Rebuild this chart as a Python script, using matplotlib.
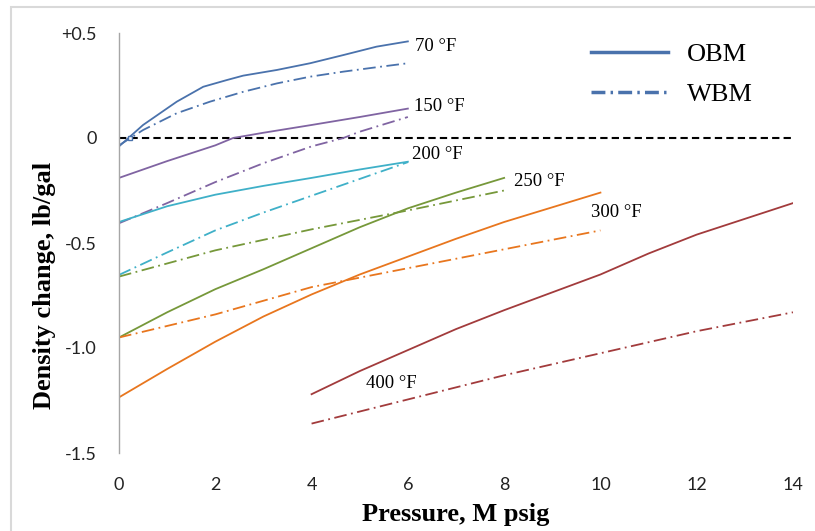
import matplotlib
matplotlib.use('Agg')
import matplotlib.pyplot as plt
from matplotlib.lines import Line2D
from matplotlib.patches import Rectangle

# OBM (solid) and WBM (dash-dot) density change, lb/gal vs pressure, M psig
p_70 = [0, 0.5, 1.2, 1.75, 2.24, 2.58, 3.28, 3.97, 4.66, 5.35, 6]
obm_70 = [-0.04, 0.062, 0.173, 0.244, 0.276, 0.297, 0.324, 0.356, 0.395, 0.435, 0.46]
p_70w = [0, 0.5, 1.2, 1.89, 2.58, 3.28, 3.97, 4.66, 5.35, 6]
wbm_70 = [-0.035, 0.038, 0.118, 0.173, 0.22, 0.26, 0.292, 0.316, 0.337, 0.356]

p_150 = [0, 1, 2, 2.37, 3, 4, 5, 6]
obm_150 = [-0.19, -0.11, -0.035, 0.0, 0.025, 0.062, 0.10, 0.14]
p_150w = [0, 1, 2, 3, 4, 4.66, 5, 6]
wbm_150 = [-0.406, -0.31, -0.21, -0.12, -0.04, 0.0, 0.03, 0.10]

p_200 = [0, 1, 2, 3, 4, 5, 6]
obm_200 = [-0.40, -0.325, -0.27, -0.228, -0.19, -0.15, -0.113]
wbm_200 = [-0.652, -0.545, -0.44, -0.355, -0.275, -0.195, -0.115]

p_250 = [0, 1, 2, 3, 4, 5, 6, 7, 8]
obm_250 = [-0.95, -0.83, -0.72, -0.625, -0.525, -0.425, -0.335, -0.26, -0.19]
p_250w = [0, 2, 4, 6, 8]
wbm_250 = [-0.66, -0.535, -0.435, -0.345, -0.25]

p_300 = [0, 1, 2, 3, 4, 5, 6, 7, 8, 9, 10]
obm_300 = [-1.235, -1.10, -0.97, -0.85, -0.745, -0.65, -0.565, -0.48, -0.40, -0.33, -0.26]
p_300w = [0, 2, 4, 6, 8, 10]
wbm_300 = [-0.95, -0.84, -0.71, -0.62, -0.53, -0.44]

p_400 = [4, 5, 6, 7, 8, 9, 10, 11, 12, 13, 14]
obm_400 = [-1.22, -1.11, -1.01, -0.91, -0.82, -0.735, -0.65, -0.55, -0.46, -0.385, -0.31]
p_400w = [4, 6, 8, 10, 12, 14]
wbm_400 = [-1.36, -1.245, -1.13, -1.025, -0.92, -0.83]

marker_x = [0.23]
marker_y = [0.0]

x_ticks = [0, 2, 4, 6, 8, 10, 12, 14]
y_ticks = [-1.5, -1.0, -0.5, 0, 0.5]
y_tick_labels = ['-1.5', '-1.0', '-0.5', '0', '+0.5']

series = [
    (p_70, obm_70, p_70w, wbm_70, '#4a72ac', '70 °F', (6.15, 0.435)),
    (p_150, obm_150, p_150w, wbm_150, '#8064a2', '150 °F', (6.12, 0.148)),
    (p_200, obm_200, p_200, wbm_200, '#3fb0c8', '200 °F', (6.08, -0.08)),
    (p_250, obm_250, p_250w, wbm_250, '#76983a', '250 °F', (8.2, -0.205)),
    (p_300, obm_300, p_300w, wbm_300, '#e8761e', '300 °F', (9.8, -0.357)),
    (p_400, obm_400, p_400w, wbm_400, '#a23b3c', '400 °F', (5.13, -1.17)),
]

W, H = 815, 531
fig = plt.figure(figsize=(W / 100, H / 100), dpi=100)
ax = fig.add_axes([119 / W, (H - 453) / H, 674 / W, 420 / H])

dashdot = (0, (7, 2.5, 1, 2.5))
serif = 'Liberation Serif'

ax.axhline(0, color='black', lw=1.5, ls=(0, (3.5, 2)), zorder=1)
for px, ob, pw, wb, col, lab, pos in series:
    ax.plot(px, ob, color=col, lw=1.3, zorder=2)
    ax.plot(pw, wb, color=col, lw=1.3, ls=dashdot, zorder=2)
    ax.text(pos[0], pos[1], lab, family=serif, fontsize=13.5, va='center', ha='left')
ax.plot(marker_x, marker_y, 's', ms=3, mfc='white', mec='#4a72ac', mew=1, zorder=3)

ax.set_xlim(0, 14)
ax.set_ylim(-1.5, 0.5)
ax.set_xticks(x_ticks)
ax.set_yticks(y_ticks)
ax.set_yticklabels(y_tick_labels)
ax.tick_params(length=0, labelsize=13, colors='#222222')
ax.tick_params(axis='x', pad=17)
ax.tick_params(axis='y', pad=16)
for lbl in ax.get_xticklabels() + ax.get_yticklabels():
    lbl.set_family('Lato')
for s in ['top', 'right', 'bottom']:
    ax.spines[s].set_visible(False)
ax.spines['left'].set_color('#a6a6a6')
ax.spines['left'].set_linewidth(1)

handles = [Line2D([], [], color='#4a72ac', lw=2.5),
           Line2D([], [], color='#4a72ac', lw=2.5, ls=(0, (4, 1.5, 0.7, 1.5)))]
fig.legend(handles, ['OBM', 'WBM'], loc='upper left',
           bbox_to_anchor=(591 / W, 1 - 43 / H), frameon=False,
           prop={'family': serif, 'size': 19}, handlelength=2.9,
           handletextpad=0.75, labelspacing=0.6, borderpad=0, borderaxespad=0)

fig.text(45 / W, 1 - 285 / H, 'Density change, lb/gal', rotation=90,
         family=serif, weight='bold', fontsize=19, ha='center', va='center')
fig.text(456 / W, 1 - 514 / H, 'Pressure, M psig', family=serif,
         weight='bold', fontsize=19, ha='center', va='center')

fig.patches.append(Rectangle((11 / W, -0.05), 1.1, 1 - 7 / H + 0.05,
                             transform=fig.transFigure, fill=False,
                             edgecolor='#d9d9d9', lw=1.5))

fig.savefig('out.png', dpi=100)
